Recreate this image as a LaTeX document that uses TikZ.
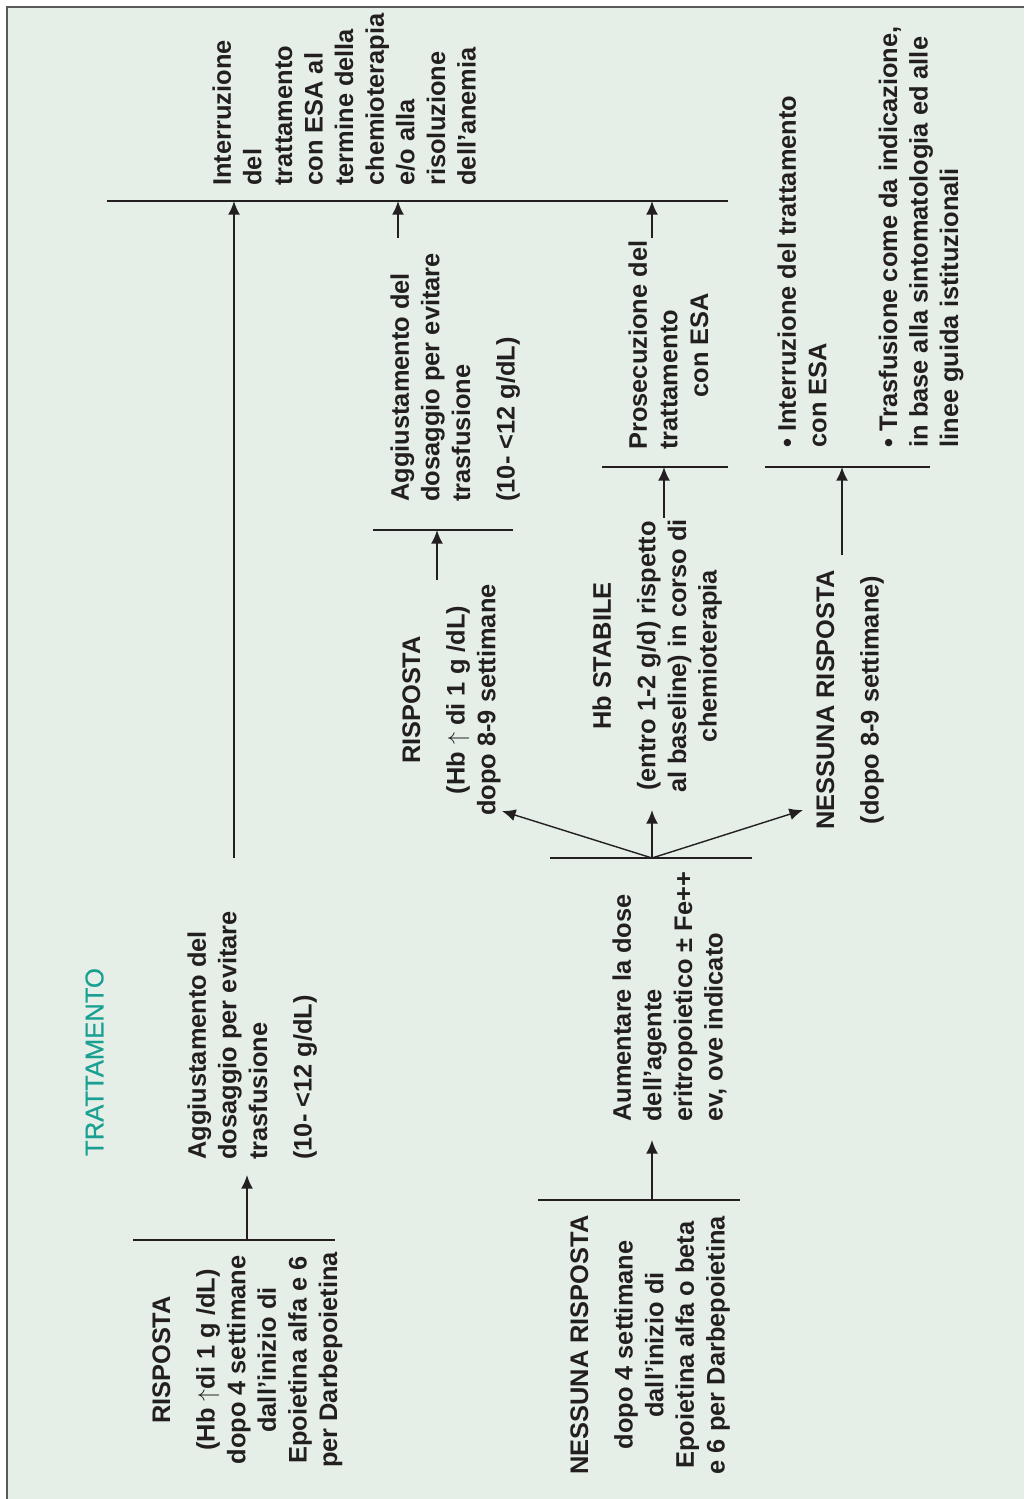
\documentclass[tikz,border=0pt]{standalone}
\usepackage{fontspec}
\setmainfont{Liberation Sans}
\definecolor{inkblack}{RGB}{35,31,32}
\definecolor{panelgreen}{RGB}{229,239,232}
\definecolor{framegray}{RGB}{90,90,90}
\definecolor{titleteal}{RGB}{26,160,146}
\usetikzlibrary{arrows.meta}

\begin{document}
\begin{tikzpicture}[x=0.5pt, y=-0.5pt,
      arr/.style={-{Latex[length=6.8pt,width=6pt]}, line width=1pt, inkblack},
      farr/.style={-{Latex[length=6.8pt,width=6pt]}, line width=0.7pt, inkblack},
      bar/.style={line width=1pt, inkblack},
      txt/.style={rotate=90, inner sep=0pt, text=inkblack,
                  font=\fontsize{12.7}{15.3}\selectfont\bfseries},
      lblock/.style={txt, align=left, anchor=north west},
      cblock/.style={txt, align=center, anchor=north}
    ]
    \useasboundingbox (0,0) rectangle (1024,1499);
    \fill[white] (0,0) rectangle (1024,1499);
    \fill[panelgreen] (7,7) rectangle (1024,1499);
    \draw[framegray, line width=1pt] (7,1499) -- (7,7) -- (1024,7);

    \node[txt, anchor=north, text=titleteal,
          font=\fontsize{12.8}{15.3}\selectfont\addfontfeature{FakeBold=0.6}] (titolo) at (85,1062) {TRATTAMENTO};

    % dopo 4 settimane
    \node[cblock] (risp4) at (152,1360) {%
      RISPOSTA\\[7pt]
      (Hb $\uparrow$di 1 g /dL)\\
      dopo 4 settimane\\
      dall’inizio di\\
      Epoietina alfa e 6\\
      per Darbepoietina};
    \node[lblock] (agg4) at (187,1160) {%
      Aggiustamento del\\
      dosaggio per evitare\\
      trasfusione\\[7pt]
      (10- <12 g/dL)};
    \node[cblock] (nores4) at (570,1345) {%
      NESSUNA RISPOSTA\\[7pt]
      dopo 4 settimane\\
      dall’inizio di\\
      Epoietina alfa o beta\\
      e 6 per Darbepoietina};
    \node[lblock] (aumenta) at (612,1122) {%
      Aumentare la dose\\
      dell’agente\\
      eritropoietico ± Fe++\\
      ev, ove indicato};

    % dopo 8-9 settimane
    \node[cblock] (risp8) at (402,700) {%
      RISPOSTA\\[7pt]
      (Hb $\uparrow$ di 1 g /dL)\\
      dopo 8-9 settimane};
    \node[cblock] (stabile) at (592,656) {%
      Hb STABILE\\[7pt]
      (entro 1-2 g/d) rispetto\\
      al baseline) in corso di\\
      chemioterapia};
    \node[cblock] (nores8) at (816,700) {%
      NESSUNA RISPOSTA\\[7pt]
      (dopo 8-9 settimane)};
    \node[lblock] (agg8) at (390,502) {%
      Aggiustamento del\\
      dosaggio per evitare\\
      trasfusione\\[7pt]
      (10- <12 g/dL)};
    \node[lblock] (prosegui) at (628,450) {%
      Prosecuzione del\\
      trattamento\\
      \hspace*{26pt}con ESA};
    \node[lblock] (sospendi) at (777,448) {%
      • Interruzione del trattamento\\
      con ESA\\[20pt]
      • Trasfusione come da indicazione,\\
      in base alla sintomatologia ed alle\\
      linee guida istituzionali};
    \node[lblock] (stop) at (212,186) {%
      Interruzione\\
      del\\
      trattamento\\
      con ESA al\\
      termine della\\
      chemioterapia\\
      e/o alla\\
      risoluzione\\
      dell’anemia};

    % barre
    \draw[bar] (133,1240) -- (335,1240);
    \draw[bar] (538,1200) -- (740,1200);
    \draw[bar] (550,858) -- (752,858);
    \draw[bar] (373,530) -- (513,530);
    \draw[bar] (602,467) -- (728,467);
    \draw[bar] (765,467) -- (930,467);
    \draw[bar] (107,201) -- (728,201);

    % estremi delle frecce
    \coordinate (r4) at (247,1240);  \coordinate (r4t) at (247,1175);
    \coordinate (n4) at (652,1200);  \coordinate (n4t) at (652,1140);
    \coordinate (fan) at (652,858);
    \coordinate (fanL) at (502,811); \coordinate (fanC) at (652,810);
    \coordinate (fanR) at (803,810);
    \coordinate (a4) at (234,858);   \coordinate (a4t) at (234,201);
    \coordinate (r8) at (437,580);   \coordinate (r8t) at (437,530);
    \coordinate (g8) at (398,238);   \coordinate (g8t) at (398,201);
    \coordinate (s8) at (664,518);   \coordinate (s8t) at (664,467);
    \coordinate (p8) at (652,238);   \coordinate (p8t) at (652,201);
    \coordinate (n8) at (842,555);   \coordinate (n8t) at (842,467);

    \draw[arr] (r4)--(r4t);
    \draw[arr] (n4)--(n4t);
    \draw[farr] (fan)--(fanL);
    \draw[arr] (fan)--(fanC);
    \draw[farr] (fan)--(fanR);
    \draw[arr] (a4)--(a4t);
    \draw[arr] (r8)--(r8t);
    \draw[arr] (g8)--(g8t);
    \draw[arr] (s8)--(s8t);
    \draw[arr] (p8)--(p8t);
    \draw[arr] (n8)--(n8t);
  \end{tikzpicture}
\end{document}
